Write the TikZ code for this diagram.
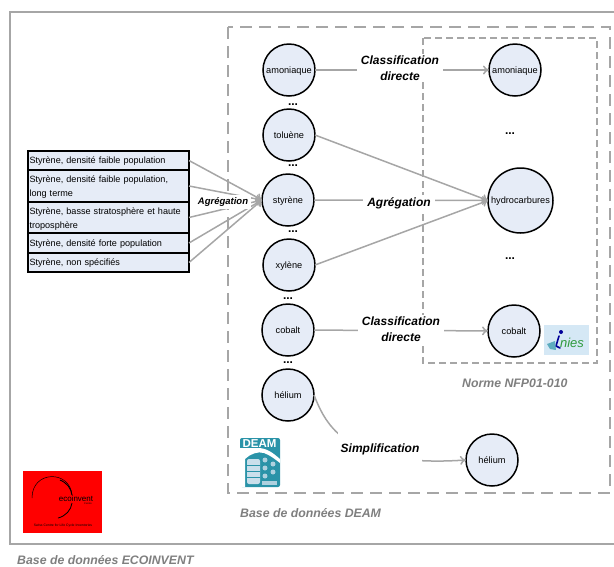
\documentclass[tikz,border=0pt]{standalone}
\usepackage{fontspec}
\setmainfont{Liberation Sans}
\usetikzlibrary{arrows.meta}
\definecolor{framegray}{HTML}{A6A6A6}
\definecolor{fillblue}{HTML}{E6ECF7}
\definecolor{captiongray}{HTML}{7F7F7F}
\definecolor{deamteal}{HTML}{2A93A8}
\definecolor{iniesblue}{HTML}{D5E8F5}
\definecolor{iniesgreen}{HTML}{2E9A3C}
\tikzstyle{substance}=[draw, circle, line width=1.5pt, fill=fillblue, inner sep=0, outer sep=0, minimum size=52pt, text depth=0pt, font=\fontsize{9.2}{10}\selectfont]
\tikzstyle{bigsubstance}=[substance, minimum size=65pt]
\tikzstyle{stybox}=[draw, line width=1.3pt, fill=fillblue, inner sep=0, outer sep=0, minimum width=161pt, align=left, text width=158pt, text depth=0pt, font=\fontsize{9.1}{14}\selectfont]
\tikzstyle{stybox2}=[stybox, minimum height=31pt, text depth=13pt]
\tikzstyle{link}=[draw=framegray, line width=1.5pt, -{To[length=6pt,width=9pt]}]
\tikzstyle{method}=[fill=white, inner sep=2pt, inner xsep=4pt, align=center, font=\fontsize{12}{15.5}\selectfont\bfseries\itshape]
\tikzstyle{caption}=[inner sep=0, anchor=west, text=captiongray, font=\fontsize{12.3}{14}\selectfont\bfseries\itshape]
\tikzstyle{dotsnode}=[inner sep=0, font=\bfseries\fontsize{12}{12}\selectfont]
\tikzstyle{frame}=[draw=framegray, line width=1.6pt]
\tikzstyle{dashframe}=[frame, dash pattern=on 12pt off 7pt]
\begin{document}
\begin{tikzpicture}[x=1pt, y=-1pt]
        \useasboundingbox (0, 0) rectangle (614, 566);
        % Frames
        \draw[frame] (614, 12) -- (10, 12) -- (10, 544) -- (614, 544);
        \draw[dashframe] (228, 27) rectangle (610, 493);
        \draw[frame, dash pattern=on 7pt off 4pt] (423, 38) rectangle (597, 363);
        % Substances
        \node[substance] (amoniaqueL) at (289, 70) {amoniaque};
        \node[substance] (tolueneL) at (289, 135) {toluène};
        \node[substance] (styreneL) at (288, 200) {styrène};
        \node[substance] (xyleneL) at (289, 265) {xylène};
        \node[substance] (cobaltL) at (288, 330) {cobalt};
        \node[substance] (heliumL) at (288, 395) {hélium};
        \node[substance] (amoniaqueR) at (515, 70) {amoniaque};
        \node[bigsubstance] (hydro) at (520.5, 200.5) {hydrocarbures};
        \node[substance] (cobaltR) at (514, 331) {cobalt};
        \node[substance] (heliumR) at (492, 460) {hélium};
        % Ecoinvent entries
        \node[stybox, minimum height=19pt] (sty1) at (108.5, 160.5) {Styrène, densité faible population};
        \node[stybox2] (sty2) at (108.5, 186) {Styrène, densité faible population,\\long terme};
        \node[stybox2] (sty3) at (108.5, 217.5) {Styrène, basse stratosphère et haute\\troposphère};
        \node[stybox, minimum height=20pt] (sty4) at (108.5, 243) {Styrène, densité forte population};
        \node[stybox, minimum height=19pt] (sty5) at (108.5, 262.5) {Styrène, non spécifiés};
        % Connectors
        \draw[link] (sty1.east) -- (styreneL.west);
        \draw[link] (sty2.east) -- (styreneL.west);
        \draw[link] (sty3.east) -- (styreneL.west);
        \draw[link] (sty4.east) -- (styreneL.west);
        \draw[link] (sty5.east) -- (styreneL.west);
        \draw[link] (amoniaqueL) -- (amoniaqueR);
        \draw[link] (tolueneL.east) -- (hydro.west);
        \draw[link] (styreneL) -- (hydro.west);
        \draw[link] (xyleneL.east) -- (hydro.west);
        \draw[link] (cobaltL) -- (cobaltR);
        \draw[link] (heliumL.east) .. controls (326, 425) and (345, 468) .. (heliumR.west);
        % Labels
        \node[method, font=\fontsize{9.5}{11}\selectfont\bfseries\itshape, inner sep=2.5pt] (agreg1) at (223, 202) {Agrégation};
        \node[method] (classif1) at (400, 68) {Classification\\directe};
        \node[method] (agreg2) at (399, 203) {Agrégation};
        \node[method] (classif2) at (401, 329) {Classification\\directe};
        \node[method, inner ysep=12pt, inner xsep=3pt] (simplif) at (380, 449) {Simplification};
        \node[dotsnode] (dots1) at (293, 105) {...};
        \node[dotsnode] (dots2) at (293, 166) {...};
        \node[dotsnode] (dots3) at (293, 232) {...};
        \node[dotsnode] (dots4) at (288, 299) {...};
        \node[dotsnode] (dots5) at (288, 363) {...};
        \node[dotsnode] (dots6) at (510, 134) {...};
        \node[dotsnode] (dots7) at (510, 259) {...};
        \node[caption] (normecap) at (462, 383) {Norme NFP01-010};
        \node[caption] (deamcap) at (240, 513) {Base de données DEAM};
        \node[caption] (ecocap) at (17, 560) {Base de données ECOINVENT};
        % Ecoinvent logo
        \fill[red] (23, 471) rectangle (102, 533);
        \draw[line width=0.5pt] (32, 498) .. controls (32, 470) and (70, 470) .. (72, 495);
        \draw[line width=0.9pt] (60, 480) .. controls (67, 483) and (71, 488) .. (72, 495);
        \draw[line width=0.8pt] (72, 503) .. controls (71, 510) and (66, 516) .. (58, 518);
        \node[inner sep=0, font=\fontsize{8}{8}\selectfont] (ecotext) at (76, 498.5) {ecoinvent};
        \node[inner sep=0, font=\fontsize{2.5}{3}\selectfont] (ecocentre) at (88, 504) {Centre};
        \node[inner sep=0, font=\fontsize{3.4}{4}\selectfont] (ecoswiss) at (63, 526) {Swiss Centre for Life Cycle Inventories};
        % DEAM logo
        \fill[deamteal, rounded corners=2pt] (240, 438) rectangle (280, 487);
        \fill[white] (245, 459) .. controls (250, 454) and (258, 451) .. (264, 453) .. controls (270, 455) and (276, 460) .. (280, 463) -- (280, 459) .. controls (272, 452) and (266, 448) .. (258, 448) -- (240, 448) -- (240, 487) -- (245, 487) -- cycle;
        \node[inner sep=0, text=white, font=\fontsize{11.5}{11.5}\selectfont\bfseries] (deamtext) at (259.5, 443.5) {DEAM};
        \fill[fillblue!85!deamteal, rounded corners=2pt] (247, 459) rectangle (260, 484);
        \foreach \y in {465, 471, 477}
            \draw[deamteal, line width=0.8pt] (247, \y) -- (260, \y);
        \foreach \x/\y in {265/460, 265/468, 265/476, 273/464, 273/472}
            \fill[fillblue!70!deamteal] (\x, \y) circle (2.5pt);
        \fill[fillblue!70!deamteal] (262, 481) rectangle (277, 485);
        % Inies logo
        \fill[iniesblue] (544, 325) rectangle (589, 355);
        \node[inner sep=0, text=iniesgreen, font=\fontsize{13}{13}\selectfont\itshape] (iniestext) at (572, 343) {nies};
        \fill[blue!60!black] (561, 332) circle (2pt);
        \draw[blue!60!black, line width=1.6pt, line cap=round] (559, 336) -- (556, 346) -- (560, 348);
        \fill[deamteal!70!iniesblue] (547, 344) -- (555, 341) -- (556, 350) -- (550, 349) -- cycle;
\end{tikzpicture}
\end{document}
